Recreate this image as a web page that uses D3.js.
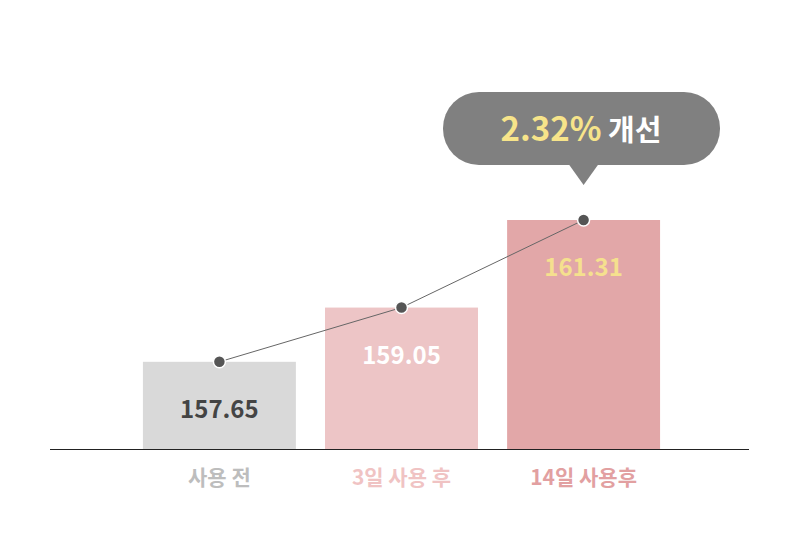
<!DOCTYPE html>
<html><head><meta charset="utf-8">
<script src="https://cdn.jsdelivr.net/npm/d3@7"></script>
<style>body{margin:0;background:#fff}text{font-family:"Noto Sans CJK KR","Noto Sans",sans-serif;font-weight:700}</style>
</head><body>
<svg id="c" width="800" height="547"></svg>
<script>
var categories = ["사용 전", "3일 사용 후", "14일 사용후"];
var values = [157.65, 159.05, 161.31];
var labels = ["157.65", "159.05", "161.31"];
var improvement = "2.32%";

var barColors = ["#d9d9d9", "#edc5c6", "#e2a7a8"];
var valueColors = ["#444444", "#ffffff", "#f5e08e"];
var catColors = ["#bdbdbd", "#f0c3c3", "#e2a0a1"];

var svg = d3.select("#c");
var x = d3.scaleBand().domain(categories).range([132, 671]).paddingInner(0.16).paddingOuter(0.06);
var y = d3.scaleLinear().domain([155.4, 161.31]).range([449, 220]);

svg.selectAll("rect.bar").data(values).enter().append("rect")
  .attr("x", (d, i) => x(categories[i])).attr("width", x.bandwidth())
  .attr("y", d => y(d)).attr("height", d => 449 - y(d))
  .attr("fill", (d, i) => barColors[i]);

svg.append("line").attr("x1", 50).attr("x2", 749).attr("y1", 449.5).attr("y2", 449.5).attr("stroke", "#222");

svg.selectAll("text.val").data(values).enter().append("text")
  .attr("x", (d, i) => x(categories[i]) + x.bandwidth() / 2)
  .attr("y", d => y(d) + 56).attr("text-anchor", "middle")
  .attr("font-size", 24).attr("fill", (d, i) => valueColors[i]).text((d, i) => labels[i]);

var line = d3.line().x((d, i) => x(categories[i]) + x.bandwidth() / 2).y(d => y(d));
svg.append("path").attr("d", line(values)).attr("fill", "none").attr("stroke", "#666").attr("stroke-width", 1);
svg.selectAll("circle").data(values).enter().append("circle")
  .attr("cx", (d, i) => x(categories[i]) + x.bandwidth() / 2).attr("cy", d => y(d))
  .attr("r", 6).attr("fill", "#555").attr("stroke", "#fff").attr("stroke-width", 1.5);

svg.selectAll("text.cat").data(categories).enter().append("text")
  .attr("x", d => x(d) + x.bandwidth() / 2).attr("y", 485).attr("text-anchor", "middle")
  .attr("font-size", 21).attr("fill", (d, i) => catColors[i]).text(d => d);

// speech bubble above last bar
var cx = x(categories[2]) + x.bandwidth() / 2;
var g = svg.append("g");
g.append("rect").attr("x", 443).attr("y", 92).attr("width", 277).attr("height", 73).attr("rx", 36).attr("fill", "#808080");
g.append("path").attr("d", "M" + (cx - 15) + ",164L" + cx + ",185L" + (cx + 15) + ",164Z").attr("fill", "#808080");
var t = g.append("text").attr("x", 581).attr("y", 141).attr("text-anchor", "middle").attr("font-size", 33);
t.append("tspan").attr("fill", "#f7e48a").text(improvement);
t.append("tspan").attr("fill", "#fff").attr("font-size", 29).text(" 개선");
</script>
</body></html>
